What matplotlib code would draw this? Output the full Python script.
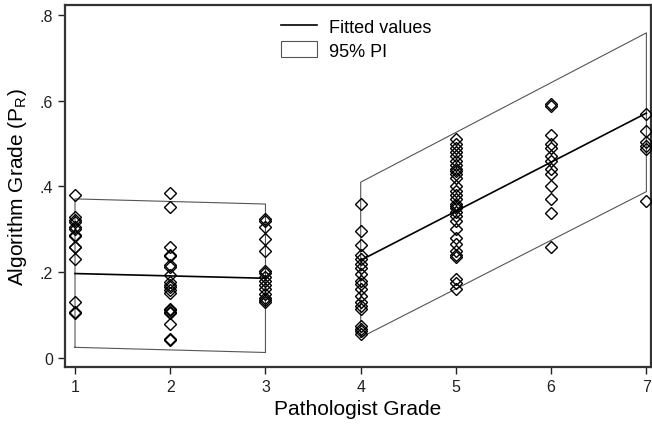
import matplotlib
matplotlib.use("Agg")
import matplotlib.pyplot as plt
from matplotlib.patches import Patch
from matplotlib.lines import Line2D
import numpy as np

plt.rcParams['font.family'] = ['Liberation Sans', 'DejaVu Sans']
plt.rcParams['mathtext.fontset'] = 'custom'
plt.rcParams['mathtext.rm'] = 'Liberation Sans'

# Observed algorithm grades per pathologist grade
grade1 = [0.379, 0.328, 0.322, 0.318, 0.306, 0.300, 0.288, 0.285, 0.260, 0.258, 0.232, 0.130, 0.107, 0.104]
grade2 = [0.384, 0.351, 0.260, 0.240, 0.237, 0.216, 0.213, 0.194, 0.177, 0.170, 0.165, 0.158, 0.151,
          0.115, 0.112, 0.108, 0.104, 0.079, 0.045, 0.042]
grade3 = [0.325, 0.320, 0.306, 0.278, 0.250, 0.202, 0.198, 0.190, 0.180, 0.170, 0.160, 0.150,
          0.140, 0.135, 0.130]
grade4 = [0.359, 0.297, 0.264, 0.240, 0.231, 0.219, 0.210, 0.196, 0.180, 0.173, 0.160, 0.145,
          0.130, 0.122, 0.115, 0.075, 0.068, 0.064, 0.056]
grade5 = [0.510, 0.500, 0.490, 0.480, 0.470, 0.460, 0.450, 0.440, 0.435, 0.430, 0.420, 0.400,
          0.390, 0.380, 0.370, 0.360, 0.355, 0.350, 0.340, 0.330, 0.320, 0.300, 0.280, 0.265,
          0.250, 0.240, 0.235, 0.185, 0.175, 0.160]
grade6 = [0.592, 0.588, 0.520, 0.500, 0.490, 0.470, 0.460, 0.440, 0.430, 0.400, 0.370, 0.338, 0.258]
grade7 = [0.570, 0.530, 0.503, 0.495, 0.487, 0.365]
grades = [1, 2, 3, 4, 5, 6, 7]
observed = [grade1, grade2, grade3, grade4, grade5, grade6, grade7]

# Fitted values and 95% prediction interval (two segments)
seg1_x = [1, 3]
seg1_fit = [0.197, 0.186]
seg1_lo = [0.025, 0.013]
seg1_hi = [0.371, 0.359]
seg2_x = [4, 7]
seg2_fit = [0.228, 0.571]
seg2_lo = [0.048, 0.388]
seg2_hi = [0.410, 0.758]

fig = plt.figure(figsize=(6.52, 4.27), dpi=100)
ax = fig.add_axes([0.0997, 0.138, 0.899, 0.848])

for sx, lo, hi in [(seg1_x, seg1_lo, seg1_hi), (seg2_x, seg2_lo, seg2_hi)]:
    px = [sx[0], sx[1], sx[1], sx[0], sx[0]]
    py = [lo[0], lo[1], hi[1], hi[0], lo[0]]
    ax.plot(px, py, color='#555555', linewidth=0.8, zorder=1)

for g, vals in zip(grades, observed):
    ax.plot([g] * len(vals), vals, linestyle='none', marker='D', markersize=6,
            markerfacecolor='none', markeredgecolor='black', markeredgewidth=1.0, zorder=3)

ax.plot(seg1_x, seg1_fit, color='black', linewidth=1.2, zorder=2)
ax.plot(seg2_x, seg2_fit, color='black', linewidth=1.2, zorder=2)

ax.set_xlim(0.895, 7.05)
ax.set_ylim(-0.021, 0.823)
ax.set_xticks(grades)
ax.set_xticklabels([str(g) for g in grades])
ax.set_yticks([0, 0.2, 0.4, 0.6, 0.8])
ax.set_yticklabels(['0', '.2', '.4', '.6', '.8'])
ax.tick_params(direction='out', length=5, width=1, labelsize=11.5, colors='#222222')
for s in ax.spines.values():
    s.set_linewidth(1.6)
    s.set_color('#333333')

ax.set_xlabel('Pathologist Grade', fontsize=15, labelpad=4)
ax.set_ylabel(r'Algorithm Grade (P$_\mathregular{R}$)', fontsize=15, labelpad=8)

handles = [Line2D([0], [0], color='black', linewidth=1.2),
           Patch(facecolor='white', edgecolor='#555555', linewidth=0.8)]
ax.legend(handles, ['Fitted values', '95% PI'], loc='upper left',
          bbox_to_anchor=(0.34, 1.01), frameon=False, fontsize=13,
          handlelength=2.0, handleheight=1.0, handletextpad=0.7, labelspacing=0.3)

fig.savefig('out.png', dpi=100)
